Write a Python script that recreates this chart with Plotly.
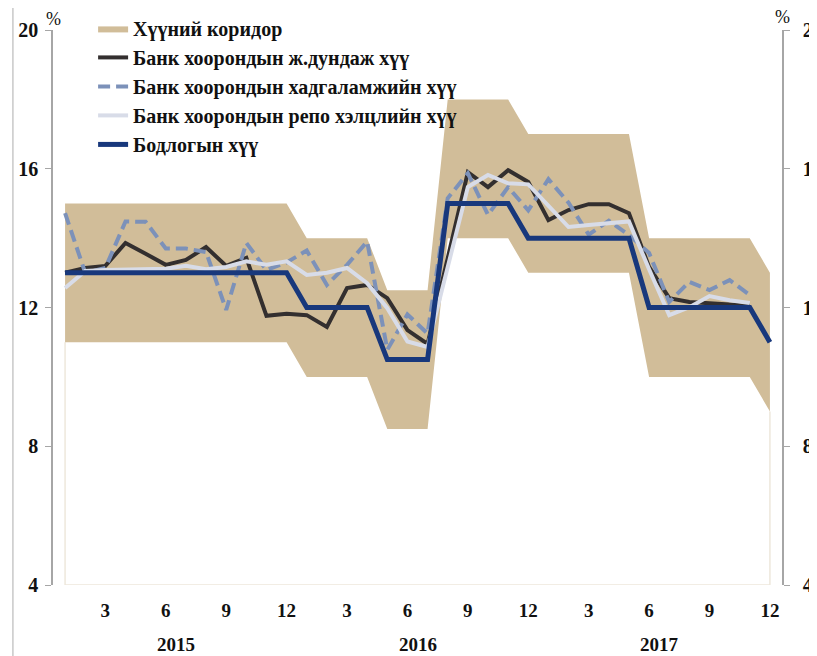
import plotly.graph_objects as go

# ── Data (monthly, Jan 2015 – Dec 2017) ─────────────────────────

months = list(range(1, 37))

corridor_upper = [15] * 12 + [14] * 4 + [12.5] * 3 + [18] * 4 + [17] * 6 + [14] * 6 + [13]
corridor_lower = [11] * 12 + [10] * 4 + [8.5] * 3 + [14] * 4 + [13] * 6 + [10] * 6 + [9]

policy_rate = [13] * 12 + [12] * 4 + [10.5] * 3 + [15] * 4 + [14] * 6 + [12] * 6 + [11]

interbank_avg = [
    13.0, 13.14, 13.2, 13.86, 13.55, 13.23, 13.37, 13.74, 13.2, 13.43, 11.76, 11.82,
    11.78, 11.44, 12.56, 12.65, 12.27, 11.35, 10.95, 13.4, 15.9, 15.47, 15.96, 15.62,
    14.52, 14.81, 14.98, 14.98, 14.72, 13.17, 12.27, 12.16, 12.12, 12.08, 12.05,
]
interbank_deposit = [
    14.72, 13.0, 13.14, 14.48, 14.47, 13.7, 13.7, 13.6, 11.93, 13.86, 13.08, 13.3,
    13.64, 12.65, 13.23, 13.9, 10.78, 11.8, 11.25, 15.15, 15.87, 14.67, 15.47, 14.8,
    15.7, 15.02, 14.1, 14.5, 14.09, 13.57, 12.16, 12.74, 12.5, 12.79, 12.36,
]
interbank_repo = [
    12.56, 13.05, 13.08, 13.1, 13.12, 13.12, 13.2, 13.1, 13.17, 13.33, 13.23, 13.33,
    12.94, 13.0, 13.14, 12.7, 11.98, 11.02, 10.86, 13.2, 15.47, 15.82, 15.58, 15.55,
    14.95, 14.32, 14.38, 14.44, 14.48, 13.1, 11.78, 12.01, 12.33, 12.21, 12.13,
]

month_ticks = [3, 6, 9, 12, 15, 18, 21, 24, 27, 30, 33, 36]
month_labels = ["3", "6", "9", "12"] * 3
year_labels = ["2015", "2016", "2017"]
year_centers = [6.5, 18.5, 30.5]

y_ticks = [4, 8, 12, 16, 20]

names = [
    "Хүүний коридор",
    "Банк хоорондын ж.дундаж хүү",
    "Банк хоорондын хадгаламжийн хүү",
    "Банк хоорондын репо хэлцлийн хүү",
    "Бодлогын хүү",
]

# ── Style ────────────────────────────────────────────────────────

_COLORS = {
    "corridor": "#d1bd99",
    "avg": "#332f2f",
    "deposit": "#7c91b9",
    "repo": "#d8dce8",
    "policy": "#18387c",
    "axis": "#a6a6a6",
    "text": "#111111",
    "edge": "#eee8dc",
}
FONT = "Liberation Serif"
Y_MIN, Y_MAX = y_ticks[0], y_ticks[-1]

fig = go.Figure()

# faint outline of the blank area under the corridor
fig.add_trace(
    go.Scatter(
        x=[months[0], months[0], months[-1], months[-1]],
        y=[corridor_lower[0], Y_MIN, Y_MIN, corridor_lower[-1]],
        mode="lines",
        line=dict(color=_COLORS["edge"], width=1.5),
        showlegend=False,
        hoverinfo="skip",
    )
)

fig.add_trace(
    go.Scatter(
        x=months,
        y=corridor_lower,
        mode="lines",
        line=dict(width=0, color=_COLORS["corridor"]),
        showlegend=False,
        hoverinfo="skip",
    )
)
fig.add_trace(
    go.Scatter(
        x=months,
        y=corridor_upper,
        mode="lines",
        line=dict(width=0, color=_COLORS["corridor"]),
        fill="tonexty",
        fillcolor=_COLORS["corridor"],
        name=names[0],
    )
)

fig.add_trace(
    go.Scatter(
        x=months[: len(interbank_avg)],
        y=interbank_avg,
        mode="lines",
        line=dict(color=_COLORS["avg"], width=4),
        name=names[1],
    )
)
fig.add_trace(
    go.Scatter(
        x=months[: len(interbank_deposit)],
        y=interbank_deposit,
        mode="lines",
        line=dict(color=_COLORS["deposit"], width=4, dash="12px,6px"),
        name=names[2],
    )
)
fig.add_trace(
    go.Scatter(
        x=months[: len(interbank_repo)],
        y=interbank_repo,
        mode="lines",
        line=dict(color=_COLORS["repo"], width=4),
        name=names[3],
    )
)
fig.add_trace(
    go.Scatter(
        x=months,
        y=policy_rate,
        mode="lines",
        line=dict(color=_COLORS["policy"], width=5),
        name=names[4],
    )
)

# keep the right axis drawn
fig.add_trace(
    go.Scatter(
        x=months,
        y=policy_rate,
        yaxis="y2",
        mode="lines",
        line=dict(width=0),
        opacity=0,
        showlegend=False,
        hoverinfo="skip",
    )
)

axis_font = dict(family=FONT, size=20, color=_COLORS["text"], weight="bold")

# the page body adds an 8px offset, so the figure is a bit smaller than the window
fig.update_layout(
    width=809,
    height=648,
    margin=dict(l=45, r=35, t=22, b=71, autoexpand=False),
    paper_bgcolor="white",
    plot_bgcolor="white",
    font=dict(family=FONT, color=_COLORS["text"]),
    xaxis=dict(
        range=[0.4, 36.6],
        tickvals=month_ticks,
        ticktext=month_labels,
        ticks="",
        showgrid=False,
        zeroline=False,
        showline=False,
        automargin=False,
        tickfont=dict(family=FONT, size=19, color=_COLORS["text"], weight="bold"),
        ticklabelstandoff=12,
    ),
    yaxis=dict(
        range=[Y_MIN, Y_MAX],
        tickvals=y_ticks,
        ticks="outside",
        ticklen=6,
        tickcolor=_COLORS["axis"],
        showline=True,
        linecolor=_COLORS["axis"],
        linewidth=1.5,
        showgrid=False,
        zeroline=False,
        automargin=False,
        tickfont=axis_font,
        ticklabelstandoff=3,
    ),
    yaxis2=dict(
        range=[Y_MIN, Y_MAX],
        overlaying="y",
        side="right",
        tickvals=y_ticks,
        ticks="outside",
        ticklen=6,
        tickcolor=_COLORS["axis"],
        showline=True,
        linecolor=_COLORS["axis"],
        linewidth=1.5,
        showgrid=False,
        zeroline=False,
        automargin=False,
        tickfont=axis_font,
        ticklabelstandoff=9,
    ),
    legend=dict(
        x=0.055,
        y=1.038,
        xanchor="left",
        yanchor="top",
        traceorder="normal",
        bgcolor="rgba(0,0,0,0)",
        font=dict(family=FONT, size=20, color=_COLORS["text"], weight="bold"),
        itemwidth=30,
        tracegroupgap=0,
    ),
    showlegend=True,
)

for label, center in zip(year_labels, year_centers):
    fig.add_annotation(
        x=center,
        y=-0.108,
        xref="x",
        yref="paper",
        text=label,
        showarrow=False,
        yanchor="middle",
        font=dict(family=FONT, size=19, color=_COLORS["text"], weight="bold"),
    )

fig.add_annotation(
    x=0, y=1.020, xref="paper", yref="paper", text="%", showarrow=False,
    xanchor="center", yanchor="middle",
    font=dict(family=FONT, size=18, color=_COLORS["text"]),
)
fig.add_annotation(
    x=1, y=1.0234, xref="paper", yref="paper", text="%", showarrow=False,
    xanchor="center", yanchor="middle",
    font=dict(family=FONT, size=18, color=_COLORS["text"]),
)

# chart frame edge on the far left
fig.add_shape(
    type="line", xref="paper", yref="paper",
    x0=-0.055, x1=-0.055, y0=-0.13, y1=1.06,
    line=dict(color="#c8c8c8", width=1.5),
)

fig.write_html("out.html")
